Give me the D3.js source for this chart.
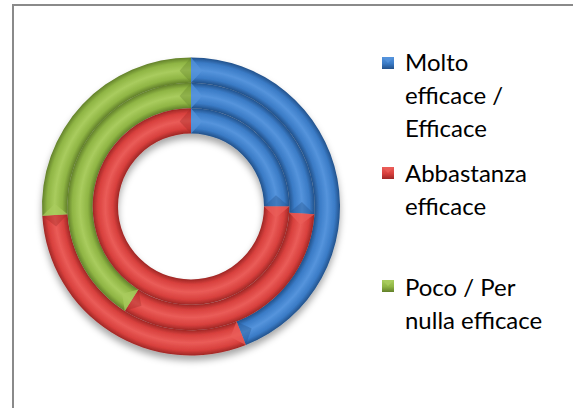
<!DOCTYPE html>
<html>
<head>
<meta charset="utf-8">
<script src="https://cdn.jsdelivr.net/npm/d3@7/dist/d3.min.js"></script>
<style>
  html, body { margin: 0; padding: 0; background: #fff; }
  svg { display: block; }
</style>
</head>
<body>
<svg id="chart" width="578" height="408"></svg>
<script>
// ---- data ----
const categories = ["Molto efficace / Efficace", "Abbastanza efficace", "Poco / Per nulla efficace"];
const legendLines = [["Molto", "efficace /", "Efficace"], ["Abbastanza", "efficace"], ["Poco / Per", "nulla efficace"]];
const ringNames = ["outer", "middle", "inner"];
const outerRing = [44, 30, 26];
const middleRing = [26, 33, 41];
const innerRing = [25, 75, 0];
const ringValues = [outerRing, middleRing, innerRing];

// ---- styles ----
const W = 578, H = 408;
const cx = 191, cy = 206.5;
const palette = {
  base: ["#3a7bc6", "#d8403d", "#8fb544"],
  light: ["#5594dc", "#ea5c58", "#a9cc5e"],
  dark: ["#22518a", "#9e2725", "#62802a"]
};

const svg = d3.select("#chart");
const defs = svg.append("defs");

// frame
svg.append("path")
  .attr("d", `M13,${H} V5 H573`)
  .attr("fill", "none")
  .attr("stroke", "#8a8a8a")
  .attr("stroke-width", 2);

// drop shadow
const f = defs.append("filter").attr("id", "shadow")
  .attr("x", "-20%").attr("y", "-20%").attr("width", "140%").attr("height", "140%");
f.append("feDropShadow").attr("dx", 0).attr("dy", 5).attr("stdDeviation", 3.5)
  .attr("flood-color", "#000").attr("flood-opacity", 0.35);

// radius scale over ring boundaries
const rScale = d3.scaleLinear().domain([0, ringNames.length]).range([149, 73]);
const color = d3.scaleOrdinal().domain(categories).range(palette.base);
const pie = d3.pie().sort(null).value(d => d);

const g = svg.append("g").attr("transform", `translate(${cx},${cy})`).attr("filter", "url(#shadow)");

ringNames.forEach((rn, ri) => {
  const rOuter = rScale(ri), rInner = rScale(ri + 1);
  const arcs = pie(ringValues[ri]);
  const arc = d3.arc().innerRadius(rInner).outerRadius(rOuter);

  categories.forEach((c, ci) => {
    const gr = defs.append("radialGradient")
      .attr("id", `grad-${ri}-${ci}`)
      .attr("gradientUnits", "userSpaceOnUse")
      .attr("cx", 0).attr("cy", 0).attr("r", rOuter);
    const fr = t => rInner / rOuter + t * (1 - rInner / rOuter);
    gr.append("stop").attr("offset", 0).attr("stop-color", palette.dark[ci]);
    gr.append("stop").attr("offset", fr(0)).attr("stop-color", palette.dark[ci]);
    gr.append("stop").attr("offset", fr(0.2)).attr("stop-color", palette.base[ci]);
    gr.append("stop").attr("offset", fr(0.5)).attr("stop-color", palette.light[ci]);
    gr.append("stop").attr("offset", fr(0.8)).attr("stop-color", palette.base[ci]);
    gr.append("stop").attr("offset", 1).attr("stop-color", palette.dark[ci]);
  });

  const ring = g.append("g").attr("class", `ring-${rn}`);
  ring.selectAll("path.slice")
    .data(arcs.filter(d => d.value > 0))
    .join("path")
    .attr("class", "slice")
    .attr("d", arc)
    .attr("fill", d => `url(#grad-${ri}-${d.index})`);

  // bevel facets at slice ends
  const rm = (rOuter + rInner) / 2, t = rOuter - rInner;
  const pt = (a, r) => [r * Math.sin(a), -r * Math.cos(a)];
  arcs.filter(d => d.value > 0 && d.endAngle - d.startAngle < 2 * Math.PI - 1e-6).forEach(d => {
    const da = (t * 0.45) / rm;
    const s = [pt(d.startAngle, rInner), pt(d.startAngle, rOuter), pt(d.startAngle + da, rm)];
    ring.append("path")
      .attr("d", "M" + s.map(p => p.join(",")).join("L") + "Z")
      .attr("fill", palette.light[d.index]).attr("opacity", 0.7);
    const e = [pt(d.endAngle, rInner), pt(d.endAngle, rOuter), pt(d.endAngle - da, rm)];
    ring.append("path")
      .attr("d", "M" + e.map(p => p.join(",")).join("L") + "Z")
      .attr("fill", palette.dark[d.index]).attr("opacity", 0.35);
  });
});

// ---- legend ----
const legendX = 382, textX = 405, lineH = 33;
const firstBaselines = [71, 182, 296];
const markerTops = [57, 167, 280];

categories.forEach((c, ci) => {
  const lg = defs.append("linearGradient").attr("id", `lg-${ci}`)
    .attr("x1", 0).attr("y1", 0).attr("x2", 0).attr("y2", 1);
  lg.append("stop").attr("offset", 0).attr("stop-color", palette.light[ci]);
  lg.append("stop").attr("offset", 0.55).attr("stop-color", palette.base[ci]);
  lg.append("stop").attr("offset", 1).attr("stop-color", palette.dark[ci]);
});

const legend = svg.append("g").attr("class", "legend");
const fontFamily = "Lato, 'Open Sans', sans-serif";
const probe = legend.append("text").attr("font-family", fontFamily).attr("font-size", 20).text(legendLines[1][0]);
const w20 = probe.node().getComputedTextLength();
probe.remove();
const fs = Math.max(16, Math.min(26, 20 * 122 / w20));

categories.forEach((c, ci) => {
  const item = legend.append("g");
  item.append("rect")
    .attr("x", legendX).attr("y", markerTops[ci])
    .attr("width", 12).attr("height", 12)
    .attr("fill", `url(#lg-${ci})`);
  item.append("path")
    .attr("d", `M${legendX},${markerTops[ci]} L${legendX + 12},${markerTops[ci]} L${legendX + 6},${markerTops[ci] + 6} Z`)
    .attr("fill", palette.light[ci]).attr("opacity", 0.8);
  const txt = item.append("text")
    .attr("font-family", fontFamily)
    .attr("font-size", fs)
    .attr("fill", "#000");
  legendLines[ci].forEach((line, li) => {
    txt.append("tspan").attr("x", textX).attr("y", firstBaselines[ci] + li * lineH).text(line);
  });
});
</script>
</body>
</html>
